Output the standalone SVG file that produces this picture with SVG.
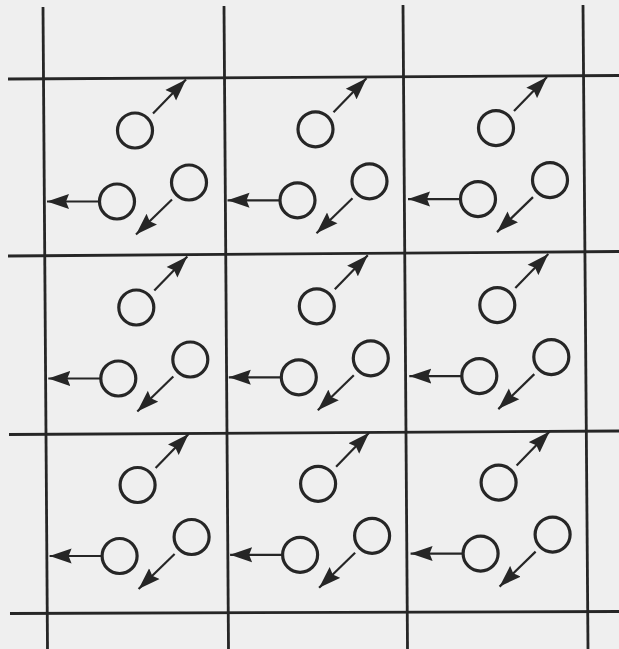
<svg xmlns="http://www.w3.org/2000/svg" width="619" height="649" viewBox="0 0 619 649">
<style>
.bg{fill:#efefef}
.grid line{stroke:#262626;stroke-width:2.8;fill:none}
.mol{fill:none;stroke:#262626;stroke-width:3.2}
.arr{stroke:#262626;stroke-width:2.2;fill:none;marker-end:url(#ah)}
</style>
<defs>
<marker id="ah" markerUnits="userSpaceOnUse" markerWidth="24" markerHeight="16" viewBox="0 0 24 16" refX="22" refY="8" orient="auto">
<path d="M0,0.5 L22,8 L0,15.5 L3,8 Z" fill="#262626"/>
</marker>
</defs>
<rect class="bg" x="0" y="0" width="619" height="649"/>
<g id="grid" class="grid">
<line x1="43" y1="7" x2="47.5" y2="649"/>
<line x1="224" y1="6" x2="228.5" y2="649"/>
<line x1="403" y1="5" x2="407.5" y2="649"/>
<line x1="583" y1="5" x2="588" y2="649"/>
<line x1="8" y1="79" x2="619" y2="75.5"/>
<line x1="8" y1="256" x2="619" y2="251.5"/>
<line x1="9" y1="434.5" x2="619" y2="431"/>
<line x1="10" y1="613.5" x2="619" y2="611.5"/>
</g>
<g id="cell-0-0" transform="translate(44,78.5)"><circle class="mol" cx="91" cy="52" r="17.5"/><circle class="mol" cx="73" cy="123" r="17.5"/><circle class="mol" cx="145" cy="104" r="17.5"/></g>
<g id="cell-1-0" transform="translate(224.5,77.3)"><circle class="mol" cx="91" cy="52" r="17.5"/><circle class="mol" cx="73" cy="123" r="17.5"/><circle class="mol" cx="145" cy="104" r="17.5"/></g>
<g id="cell-2-0" transform="translate(405,76.1)"><circle class="mol" cx="91" cy="52" r="17.5"/><circle class="mol" cx="73" cy="123" r="17.5"/><circle class="mol" cx="145" cy="104" r="17.5"/></g>
<g id="cell-0-1" transform="translate(45.3,255.5)"><circle class="mol" cx="91" cy="52" r="17.5"/><circle class="mol" cx="73" cy="123" r="17.5"/><circle class="mol" cx="145" cy="104" r="17.5"/></g>
<g id="cell-1-1" transform="translate(225.8,254.3)"><circle class="mol" cx="91" cy="52" r="17.5"/><circle class="mol" cx="73" cy="123" r="17.5"/><circle class="mol" cx="145" cy="104" r="17.5"/></g>
<g id="cell-2-1" transform="translate(406.3,253.1)"><circle class="mol" cx="91" cy="52" r="17.5"/><circle class="mol" cx="73" cy="123" r="17.5"/><circle class="mol" cx="145" cy="104" r="17.5"/></g>
<g id="cell-0-2" transform="translate(46.6,433)"><circle class="mol" cx="91" cy="52" r="17.5"/><circle class="mol" cx="73" cy="123" r="17.5"/><circle class="mol" cx="145" cy="104" r="17.5"/></g>
<g id="cell-1-2" transform="translate(227.1,431.8)"><circle class="mol" cx="91" cy="52" r="17.5"/><circle class="mol" cx="73" cy="123" r="17.5"/><circle class="mol" cx="145" cy="104" r="17.5"/></g>
<g id="cell-2-2" transform="translate(407.6,430.6)"><circle class="mol" cx="91" cy="52" r="17.5"/><circle class="mol" cx="73" cy="123" r="17.5"/><circle class="mol" cx="145" cy="104" r="17.5"/></g>
<g id="connectors">
<g transform="translate(44,78.5)"><line class="arr" x1="109" y1="35" x2="142" y2="1"/><line class="arr" x1="55" y1="123" x2="3" y2="123"/><line class="arr" x1="128" y1="121" x2="92" y2="156"/></g>
<g transform="translate(224.5,77.3)"><line class="arr" x1="109" y1="35" x2="142" y2="1"/><line class="arr" x1="55" y1="123" x2="3" y2="123"/><line class="arr" x1="128" y1="121" x2="92" y2="156"/></g>
<g transform="translate(405,76.1)"><line class="arr" x1="109" y1="35" x2="142" y2="1"/><line class="arr" x1="55" y1="123" x2="3" y2="123"/><line class="arr" x1="128" y1="121" x2="92" y2="156"/></g>
<g transform="translate(45.3,255.5)"><line class="arr" x1="109" y1="35" x2="142" y2="1"/><line class="arr" x1="55" y1="123" x2="3" y2="123"/><line class="arr" x1="128" y1="121" x2="92" y2="156"/></g>
<g transform="translate(225.8,254.3)"><line class="arr" x1="109" y1="35" x2="142" y2="1"/><line class="arr" x1="55" y1="123" x2="3" y2="123"/><line class="arr" x1="128" y1="121" x2="92" y2="156"/></g>
<g transform="translate(406.3,253.1)"><line class="arr" x1="109" y1="35" x2="142" y2="1"/><line class="arr" x1="55" y1="123" x2="3" y2="123"/><line class="arr" x1="128" y1="121" x2="92" y2="156"/></g>
<g transform="translate(46.6,433)"><line class="arr" x1="109" y1="35" x2="142" y2="1"/><line class="arr" x1="55" y1="123" x2="3" y2="123"/><line class="arr" x1="128" y1="121" x2="92" y2="156"/></g>
<g transform="translate(227.1,431.8)"><line class="arr" x1="109" y1="35" x2="142" y2="1"/><line class="arr" x1="55" y1="123" x2="3" y2="123"/><line class="arr" x1="128" y1="121" x2="92" y2="156"/></g>
<g transform="translate(407.6,430.6)"><line class="arr" x1="109" y1="35" x2="142" y2="1"/><line class="arr" x1="55" y1="123" x2="3" y2="123"/><line class="arr" x1="128" y1="121" x2="92" y2="156"/></g>
</g>
</svg>
